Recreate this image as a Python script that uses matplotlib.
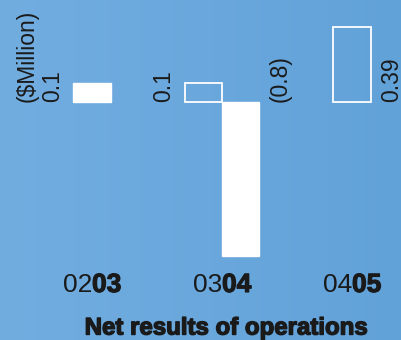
import numpy as np
import matplotlib
matplotlib.use("Agg")
import matplotlib.pyplot as plt
import matplotlib.patheffects as pe
from matplotlib.colors import LinearSegmentedColormap

plt.rcParams['font.family'] = ['Liberation Sans', 'DejaVu Sans']

# Financial years and results ($ million)
years_prefix = ["02", "03", "04"]
years_suffix = ["03", "04", "05"]
outline_values = [None, 0.1, 0.39]   # prior figures, drawn hollow
filled_values = [0.1, -0.8, None]    # reported figures, drawn solid
outline_labels = [None, "0.1", "0.39"]
filled_labels = ["0.1", "(0.8)", None]
unit_label = "($Million)"
title = "Net results of operations"

W, H = 402, 340
fig = plt.figure(figsize=(W / 100, H / 100), dpi=100)

# background gradient
bg = fig.add_axes([0, 0, 1, 1])
bg.set_axis_off()
cmap = LinearSegmentedColormap.from_list("bg", ["#72ade0", "#61a2d9"])
grad = np.tile(np.linspace(0, 1, 256), (16, 1))
bg.imshow(grad, cmap=cmap, aspect="auto", extent=[0, 1, 0, 1])
bg.set_xlim(0, 1)
bg.set_ylim(0, 1)

ax = fig.add_axes([0, 0, 1, 1])
ax.set_axis_off()
ax.patch.set_alpha(0)

spacing_px = 130.0
first_px = 92.0
base_px = 102.0
unit_px = 192.0
ax.set_xlim(-first_px / spacing_px, (W - first_px) / spacing_px)
ax.set_ylim(-(H - base_px) / unit_px, base_px / unit_px)

width = 0.285
x = np.arange(len(years_prefix))

def offsets(i):
    both = outline_values[i] is not None and filled_values[i] is not None
    return (-width / 2, width / 2) if both else (0.0, 0.0)

gap = 6.8  # points between bar and its value label
lab_fs = 16.5
for i in x:
    o_off, f_off = offsets(i)
    if outline_values[i] is not None:
        v = outline_values[i]
        ax.bar(i + o_off, v, width=width, fill=False, edgecolor="white",
               linewidth=1.3)
        side = -1 if filled_values[i] is not None else 1
        xe = i + o_off + side * width / 2
        ax.annotate(outline_labels[i], (xe, 0), xytext=(side * gap, 0),
                    textcoords="offset points", rotation=90,
                    ha="right" if side < 0 else "left", va="bottom",
                    fontsize=lab_fs, color="#1a1a1a")
    if filled_values[i] is not None:
        v = filled_values[i]
        ax.bar(i + f_off, v, width=width, color="white", edgecolor="white",
               linewidth=1.0)
        side = 1 if outline_values[i] is not None else -1
        xe = i + f_off + side * width / 2
        ax.annotate(filled_labels[i], (xe, 0), xytext=(side * gap, 0),
                    textcoords="offset points", rotation=90,
                    ha="right" if side < 0 else "left", va="bottom",
                    fontsize=lab_fs, color="#1a1a1a")

# unit label
ax.text((27 - first_px) / spacing_px, 0, unit_label, rotation=90,
        ha="center", va="bottom", fontsize=lab_fs, color="#1a1a1a")

# year labels, second half in bold
y_years = -(285 - base_px) / unit_px
for i in x:
    ax.text(i, y_years, years_prefix[i], ha="right", va="center",
            fontsize=19, color="#1a1a1a")
    ax.text(i, y_years, years_suffix[i], ha="left", va="center",
            fontsize=19, fontweight="bold", color="#1a1a1a",
            path_effects=[pe.withStroke(linewidth=0.8, foreground="#1a1a1a")])

ax.text((226 - first_px) / spacing_px, -(328 - base_px) / unit_px, title,
        ha="center", va="center", fontsize=17.3, fontweight="bold",
        color="#1a1a1a",
        path_effects=[pe.withStroke(linewidth=1.0, foreground="#1a1a1a")])

fig.savefig("out.png", dpi=100)
